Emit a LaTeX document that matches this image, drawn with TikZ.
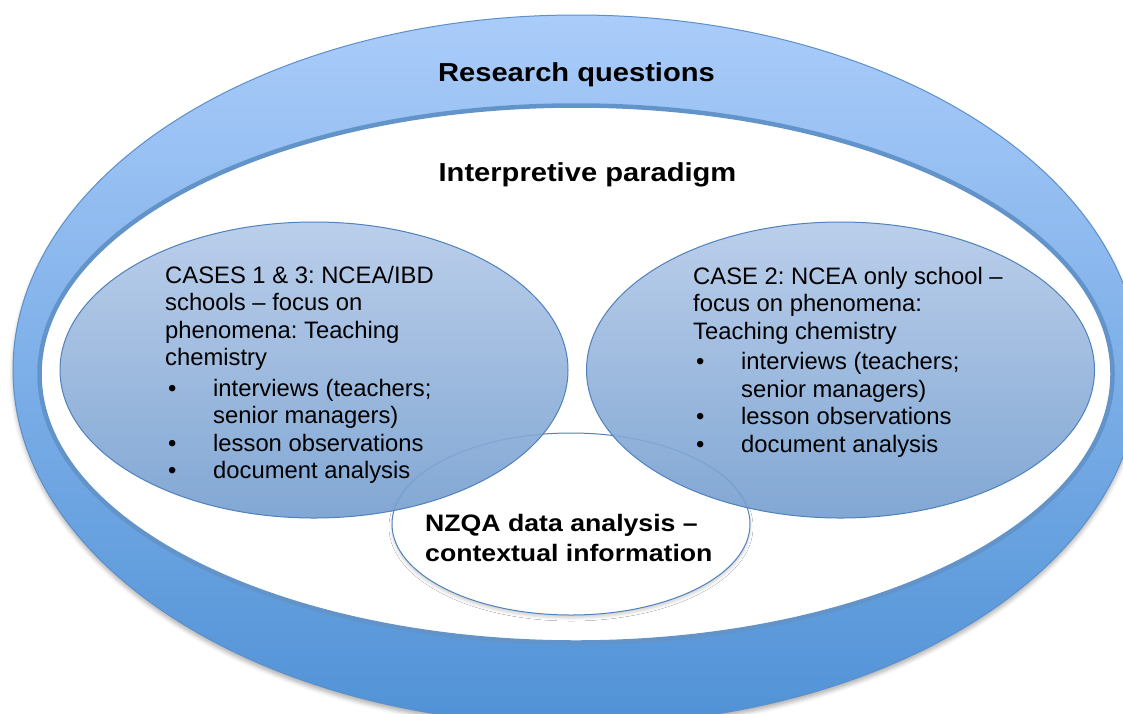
\documentclass[tikz,border=0pt]{standalone}
\usepackage{fontspec}
\setmainfont{Liberation Sans}
\newfontfamily\widebold{Liberation Sans}[FakeStretch=1.12]
\usetikzlibrary{shapes.geometric,shadows.blur}
\definecolor{ringtop}{RGB}{170,204,250}
\definecolor{ringbot}{RGB}{80,146,214}
\definecolor{ringedge}{RGB}{92,143,203}
\definecolor{rim}{RGB}{98,148,202}
\definecolor{casetop}{RGB}{180,202,233}
\definecolor{casebot}{RGB}{116,158,207}
\definecolor{caseedge}{RGB}{79,129,189}
\tikzset{
  ring/.style={ellipse, inner sep=0pt, outer sep=0pt, draw=ringedge, line width=1pt,
    top color=ringtop, bottom color=ringbot,
    blur shadow={shadow xshift=0pt, shadow yshift=-4pt, shadow opacity=30, shadow blur radius=4pt}},
  field/.style={ellipse, inner sep=0pt, outer sep=0pt, fill=white, draw=rim, line width=4.5pt},
  casebox/.style={ellipse, inner sep=0pt, outer sep=0pt, draw=caseedge, line width=1pt,
    top color=casetop, bottom color=casebot, fill opacity=0.9,
    minimum width=508pt, minimum height=296pt},
  databox/.style={ellipse, inner sep=0pt, outer sep=0pt, fill=white, draw=caseedge, line width=1pt,
    minimum width=358pt, minimum height=182pt,
    blur shadow={shadow xshift=0pt, shadow yshift=-3pt, shadow opacity=18, shadow blur radius=3pt}},
  headtext/.style={anchor=base, inner sep=0pt, font=\widebold\bfseries\fontsize{26}{30}\selectfont},
  bodytext/.style={anchor=base west, inner sep=0pt, font=\frenchspacing\fontsize{23.8}{27.5}\selectfont},
  datatext/.style={anchor=base west, inner sep=0pt, font=\widebold\bfseries\fontsize{23.8}{30}\selectfont},
}
\newcommand{\bul}{\makebox[48pt][l]{\hspace{3pt}•}}
\newcommand{\bulgap}{\hspace*{48pt}}
\begin{document}
\begin{tikzpicture}[x=1pt,y=-1pt]
\useasboundingbox (0,0) rectangle (1123,713);
\clip (0,0) rectangle (1123,713);
\node[ring, minimum width=1127pt, minimum height=710pt] (outer) at (576.5,370) {};
\node[field, minimum width=1073pt, minimum height=537pt] (inner) at (576,374) {};
\node[databox] (nzqa) at (571,524) {};
\node[casebox] (caseA) at (314,370) {};
\node[casebox] (caseB) at (840.5,370) {};
\node[headtext] (rq) at (576.5,81.5) {Research questions};
\node[headtext] (ip) at (587.5,181) {Interpretive paradigm};
\node[bodytext] (textA) at (165,283) {\begin{tabular}[t]{@{}l@{}}
CASES 1 \& 3: NCEA/IBD\\
schools – focus on\\
phenomena: Teaching\\
chemistry\\[3pt]
\bul interviews (teachers;\\
\bulgap senior managers)\\
\bul lesson observations\\
\bul document analysis
\end{tabular}};
\node[bodytext] (textB) at (693,284) {\begin{tabular}[t]{@{}l@{}}
CASE 2: NCEA only school –\\
focus on phenomena:\\
Teaching chemistry\\[3pt]
\bul interviews (teachers;\\
\bulgap senior managers)\\
\bul lesson observations\\
\bul document analysis
\end{tabular}};
\node[datatext] (textC) at (425,531.5) {\begin{tabular}[t]{@{}l@{}}
NZQA data analysis –\\
contextual information
\end{tabular}};
\end{tikzpicture}
\end{document}
